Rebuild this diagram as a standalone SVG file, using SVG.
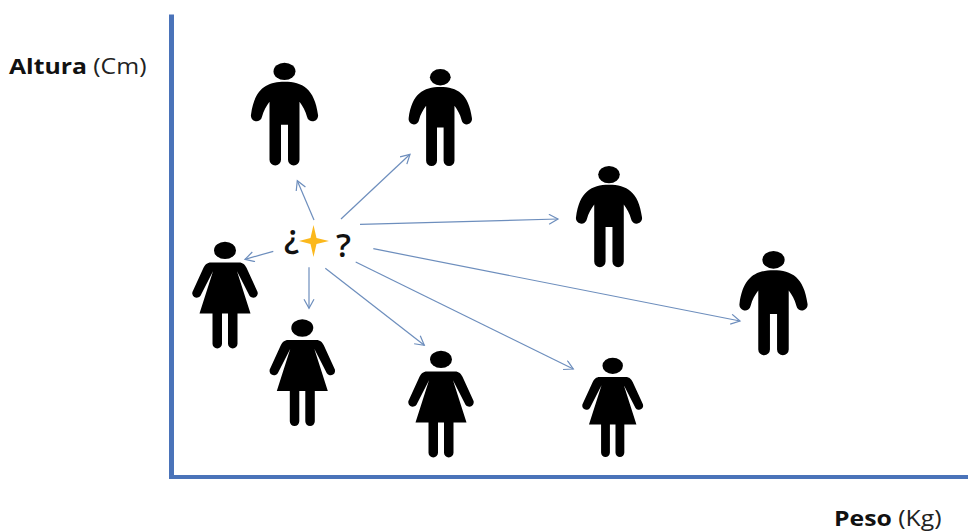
<svg xmlns="http://www.w3.org/2000/svg" width="968" height="531" viewBox="0 0 968 531">
<style>
.axis{fill:#4a73b9}
.conn{stroke:#6d8ebd;stroke-width:1.2;fill:none;marker-end:url(#ah)}
.lab{font-family:"Open Sans","Noto Sans",sans-serif;font-size:21px;fill:#222}
.lab .b{font-weight:700;fill:#111}
.q{font-family:"Open Sans","Noto Sans",sans-serif;font-size:33px;font-weight:600;fill:#111}
</style>
<defs>
<marker id="ah" markerUnits="userSpaceOnUse" markerWidth="13" markerHeight="12" refX="10" refY="5.500" orient="auto">
<path d="M1,0.500L10,5.500L1,10.500" fill="none" stroke="#6d8ebd" stroke-width="1.2"/>
</marker>
<symbol id="man" overflow="visible">
<ellipse cx="0" cy="8.700" rx="11" ry="8.700" fill="#000"/>
<path d="M0,19C-18,19 -30,26 -33.500,52A5.500,5.500 0 0 0 -22.500,54C-21,48 -18,43 -15,39V97A5.700,5.700 0 0 0 -3.500,97V62H3.500V97A5.700,5.700 0 0 0 15,97V39C18,43 21,48 22.500,54A5.500,5.500 0 0 0 33.500,52C30,26 18,19 0,19Z" fill="#000"/>
</symbol>
<symbol id="woman" overflow="visible">
<ellipse cx="0" cy="8.700" rx="11" ry="8.700" fill="#000"/>
<path d="M-14,20.700H14C18,20.700 20,23 21.500,26L32,49A4.500,4.500 0 0 1 24.500,54L12,29.500L25.500,71.700H12.500V102A4.700,4.700 0 0 1 3,102V71.700H-3V102A4.700,4.700 0 0 1 -12.500,102V71.700H-25.500L-12,29.500L-24.500,54A4.500,4.500 0 0 1 -32,49L-21.500,26C-20,23 -18,20.700 -14,20.700Z" fill="#000"/>
</symbol>
</defs>
<rect width="968" height="531" fill="#fff"/>
<g id="axes">
<rect class="axis" x="169" y="14.500" width="5" height="464.500"/>
<rect class="axis" x="169" y="475" width="799" height="4"/>
</g>
<g id="connectors">
<path class="conn" d="M314,220L297.300,180.700"/>
<path class="conn" d="M341,219L410,154.300"/>
<path class="conn" d="M360,224.300L558,219"/>
<path class="conn" d="M373.300,248.700L740,321"/>
<path class="conn" d="M355.700,262L573.300,369"/>
<path class="conn" d="M325.300,268.300L424.300,345.300"/>
<path class="conn" d="M309,267.300V308.300"/>
<path class="conn" d="M273.300,251.300L245,259.300"/>
</g>
<g id="man1"><use href="#man" transform="translate(284.500,62.700)"/></g>
<g id="man2"><use href="#man" transform="translate(440.300,69) scale(.945)"/></g>
<g id="man3"><use href="#man" transform="translate(609,166) scale(.985)"/></g>
<g id="man4"><use href="#man" transform="translate(773.500,251) scale(1.015)"/></g>
<g id="woman1"><use href="#woman" transform="translate(225,241.700)"/></g>
<g id="woman2"><use href="#woman" transform="translate(302.300,319.300)"/></g>
<g id="woman3"><use href="#woman" transform="translate(441,350.700)"/></g>
<g id="woman4"><use href="#woman" transform="translate(612.700,357.700) scale(.93)"/></g>
<g id="query">
<text class="q" x="284" y="248">¿</text>
<path d="M313.500,225L316.500,238L329,241L316.500,244L313.500,257L310.500,244L299,241L310.500,238Z" fill="#fbb81c"/>
<text class="q" x="336" y="257">?</text>
</g>
<g id="labels">
<text class="lab" transform="translate(9,74) scale(1.18,1)"><tspan class="b">Altura</tspan> (Cm)</text>
<text class="lab" transform="translate(834,526) scale(1.18,1)"><tspan class="b">Peso</tspan> (Kg)</text>
</g>
</svg>
